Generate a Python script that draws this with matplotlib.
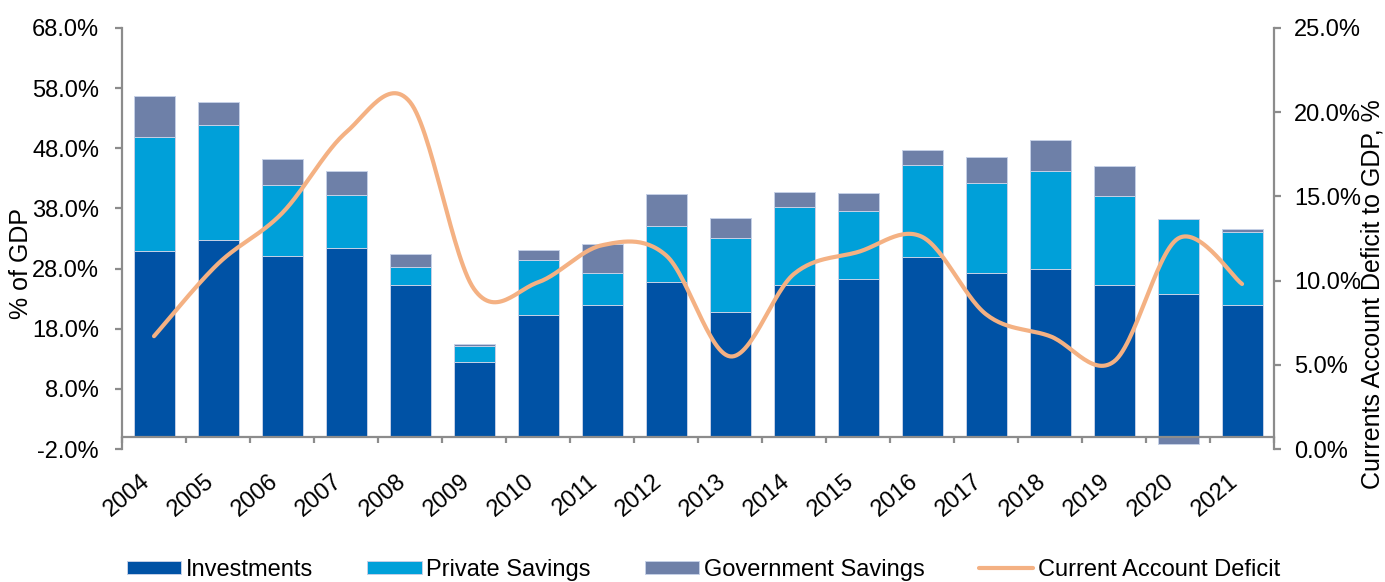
import numpy as np
import matplotlib
matplotlib.use('Agg')
import matplotlib.pyplot as plt
import matplotlib.transforms as mtransforms
from matplotlib.ticker import FuncFormatter

plt.rcParams['font.family'] = ['Liberation Sans', 'DejaVu Sans']

years = ['2004', '2005', '2006', '2007', '2008', '2009', '2010', '2011', '2012',
         '2013', '2014', '2015', '2016', '2017', '2018', '2019', '2020', '2021']
investments = [31.0, 32.7, 30.1, 31.5, 25.2, 12.5, 20.3, 22.0, 25.8,
               20.8, 25.3, 26.2, 30.0, 27.2, 28.0, 25.2, 23.7, 21.9]
private_savings = [18.8, 19.2, 11.8, 8.7, 3.1, 2.7, 9.2, 5.2, 9.2,
                   12.3, 13.0, 11.3, 15.3, 15.0, 16.2, 14.9, 12.5, 12.1]
government_savings = [6.9, 3.8, 4.3, 4.1, 2.2, 0.3, 1.6, 4.9, 5.4,
                      3.3, 2.4, 3.1, 2.4, 4.3, 5.2, 4.9, -1.2, 0.6]
current_account_deficit = [6.7, 11.0, 14.0, 18.8, 20.6, 9.5, 9.9, 12.1, 11.5,
                           5.5, 10.4, 11.7, 12.6, 8.0, 6.7, 5.2, 12.5, 9.8]

c_inv = '#0052A5'
c_priv = '#00A0D9'
c_gov = '#6E80A8'
c_line = '#F4B183'
c_axis = '#8C8C8C'


def smooth(x, y, n=30):
    # excel-style smoothed line (catmull-rom through every point)
    x = np.asarray(x, float)
    y = np.asarray(y, float)
    px = np.concatenate([[x[0]], x, [x[-1]]])
    py = np.concatenate([[y[0]], y, [y[-1]]])
    xs, ys = [], []
    for i in range(1, len(px) - 2):
        t = np.linspace(0, 1, n, endpoint=False)
        for p, out in ((px, xs), (py, ys)):
            p0, p1, p2, p3 = p[i - 1], p[i], p[i + 1], p[i + 2]
            b1 = p1 + (p2 - p0) / 6
            b2 = p2 - (p3 - p1) / 6
            out.append((1 - t) ** 3 * p1 + 3 * (1 - t) ** 2 * t * b1
                       + 3 * (1 - t) * t ** 2 * b2 + t ** 3 * p2)
    xs.append([x[-1]])
    ys.append([y[-1]])
    return np.concatenate(xs), np.concatenate(ys)


x = np.arange(len(years))
inv = np.array(investments)
priv = np.array(private_savings)
gov = np.array(government_savings)

fig = plt.figure(figsize=(13.85, 5.82), dpi=100)
ax = fig.add_axes([0.0881, 0.2285, 0.8318, 0.7234])

w = 0.64
edge = dict(edgecolor='#C5D0E6', linewidth=0.7)
ax.bar(x, inv, w, color=c_inv, label='Investments', **edge)
ax.bar(x, priv, w, bottom=inv, color=c_priv, label='Private Savings', **edge)
# negative government savings hang below zero, positive ones sit on top
gov_bottom = np.where(gov >= 0, inv + priv, 0)
ax.bar(x, gov, w, bottom=gov_bottom, color=c_gov, label='Government Savings', **edge)

ax.set_xlim(-0.5, len(years) - 0.5)
ax.set_ylim(-2, 68)
ax.set_yticks(np.arange(-2, 69, 10))
ax.yaxis.set_major_formatter(FuncFormatter(lambda v, p: f'{v:.1f}%'))

ax.spines['top'].set_visible(False)
ax.spines['right'].set_visible(False)
ax.spines['bottom'].set_position(('data', 0))
for s in ('left', 'bottom'):
    ax.spines[s].set_color(c_axis)
    ax.spines[s].set_linewidth(1.6)

ax.set_xticks(x)
ax.set_xticklabels(years, rotation=40, ha='right', rotation_mode='default')
shift = mtransforms.ScaledTranslation(4 / 72, 0, fig.dpi_scale_trans)
for lbl in ax.get_xticklabels():
    lbl.set_transform(lbl.get_transform() + shift)
ax.set_xticks(np.arange(-0.5, len(years), 1), minor=True)
ax.tick_params(axis='x', which='major', length=0, pad=24, labelsize=17)
ax.tick_params(axis='x', which='minor', length=4.5, width=1.6, color=c_axis)
ax.tick_params(axis='y', length=5, width=1.6, color=c_axis, labelsize=17, pad=11.5)

ax.set_ylabel('% of GDP', fontsize=18)
ax.yaxis.set_label_coords(-0.077, 0.44)

ax2 = ax.twinx()
sx, sy = smooth(x, current_account_deficit)
ax2.plot(sx, sy, color=c_line, lw=3, solid_capstyle='round',
         label='Current Account Deficit')
ax2.set_ylim(0, 25)
ax2.set_yticks(np.arange(0, 26, 5))
ax2.yaxis.set_major_formatter(FuncFormatter(lambda v, p: f'{v:.1f}%'))
for s in ('top', 'left', 'bottom'):
    ax2.spines[s].set_visible(False)
ax2.spines['right'].set_color(c_axis)
ax2.spines['right'].set_linewidth(1.6)
ax2.tick_params(axis='y', length=5, width=1.6, color=c_axis, labelsize=17, pad=9.5)
ax2.set_ylabel('Currents Account Deficit to GDP, %', fontsize=18)
ax2.yaxis.set_label_coords(1.0747, 0.367)

h1, l1 = ax.get_legend_handles_labels()
h2, l2 = ax2.get_legend_handles_labels()
fig.legend(h1 + h2, l1 + l2, loc='center', bbox_to_anchor=(0.508, 0.021),
           ncol=4, frameon=False, fontsize=17, handlelength=2.3,
           handleheight=0.5, handletextpad=0.2, columnspacing=2.3)

fig.savefig('out.png', dpi=100)
